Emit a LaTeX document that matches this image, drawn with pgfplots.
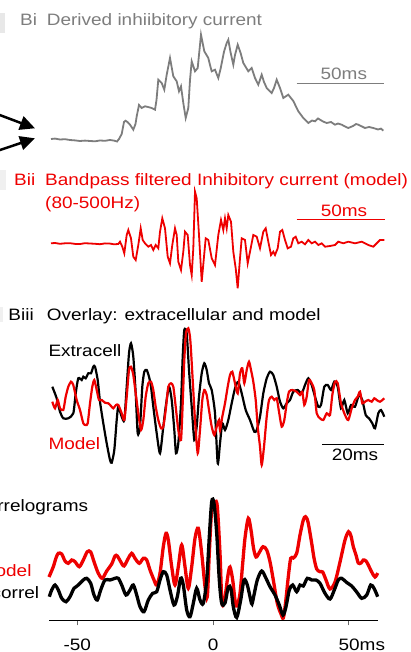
\documentclass[border=0pt]{standalone}
\usepackage{pgfplots}
\pgfplotsset{compat=1.18}
\usepackage{fontspec}
\setmainfont{Liberation Sans}[FakeStretch=1.15]
\usetikzlibrary{arrows.meta}
\definecolor{tgrey}{RGB}{125,125,125}
\definecolor{tred}{RGB}{238,0,0}
\newcommand\lbl{\fontsize{16.5pt}{19pt}\selectfont}
\begin{document}
\begin{tikzpicture}
\useasboundingbox (0,0) rectangle (410pt,652pt);
\clip (0,0) rectangle (410pt,652pt);
\begin{axis}[at={(0pt,0pt)}, anchor=south west, width=410pt, height=652pt, scale only axis,
  xmin=0, xmax=410, ymin=0, ymax=652, y dir=reverse, hide axis, clip=false]
% faint panel-letter remnants
\fill[black!9] (axis cs:0,13) rectangle (axis cs:5,33);
\fill[black!6] (axis cs:0,170) rectangle (axis cs:6,190);
\fill[black!6] (axis cs:0,307) rectangle (axis cs:3,322);
% arrows
\draw[line width=2.5pt, -{Triangle[length=15pt,width=14pt]}] (axis cs:-3,114) -- (axis cs:35,128.3);
\draw[line width=2.5pt, -{Triangle[length=15pt,width=14pt]}] (axis cs:-3,151) -- (axis cs:35,138.3);
% ---- Bi
\node[font=\lbl, text=tgrey, anchor=base west, inner sep=0] at (axis cs:20,26) {Bi};
\node[font=\lbl, text=tgrey, anchor=base west, inner sep=0] at (axis cs:46.7,26) {Derived inhiibitory current};
\addplot[tgrey, line width=1.8pt] coordinates {(51,139) (55,138.6) (60,139.5) (65,139.2) (70,140) (75,140.4) (80,141) (85,140.6) (90,141) (95,141.3) (100,140.5) (105,140.8) (110,140) (114,140.6) (117,141.5) (119,139) (121.7,134) (124,122) (125.5,120.7) (127.5,122) (130,124.7) (133.3,129.7) (135.5,124) (136.7,116.3) (139,105) (141.7,108) (145,106.3) (148,107) (151.7,108) (155,109.7) (156.5,100) (158.3,79.7) (161.7,83) (164.3,89.7) (166.7,74.7) (170,58) (173.3,76.3) (176.7,81.3) (179,91.3) (181,86.3) (183.3,103) (185.7,118) (188.3,108) (190,80) (191.7,61.3) (195,71.3) (197.7,68) (201,34.7) (204.3,51.3) (208.3,58) (210,65) (211.7,71.3) (215,69.7) (218.3,78) (220.7,68.3) (224,51.7) (226.7,43) (228.3,39.7) (230.5,52) (233.3,64.7) (235,55) (237.7,44.7) (240.7,53.3) (243.3,63) (248.3,71.3) (251.7,68) (255,78) (258.3,84.7) (261.7,74.7) (264,82) (266.7,88) (271.7,93) (274,88) (276.7,79.7) (280,88) (283.3,98) (288.3,94.7) (293.3,101) (298.3,111.3) (303.3,118) (308.3,123) (312,120.5) (315,121.3) (318,118.5) (320,119.7) (323,121.5) (326.7,123) (331,122) (335,124.7) (338,123.5) (341.7,124.7) (345,126.5) (348.3,128) (353,126) (356,124) (358.3,124.7) (362,126.5) (365,128) (369,127) (373.3,128) (378,129.5) (381,128.6) (383.3,130.7)};
\addplot[tgrey, line width=1.6pt] coordinates {(296.7,83.5) (384.3,83.5)};
\node[font=\lbl, text=tgrey, anchor=base, inner sep=0] at (axis cs:343.8,79.7) {50ms};
% ---- Bii
\node[font=\lbl, text=tred, anchor=base west, inner sep=0] at (axis cs:14,185.5) {Bii};
\node[font=\lbl, text=tred, anchor=base west, inner sep=0] at (axis cs:45,185.5) {Bandpass filtered Inhibitory current (model)};
\node[font=\lbl, text=tred, anchor=base west, inner sep=0] at (axis cs:45,208.5) {(80-500Hz)};
\addplot[tred, line width=1.8pt] coordinates {(51,243.3) (55,243) (60,243.8) (65,243.3) (70,243.2) (75,243.9) (80,244) (85,243.2) (90,243.5) (95,243.8) (100,244.2) (105,243.4) (110,243.6) (114,244.3) (118.3,244) (120,241.7) (122.3,246.7) (124.3,253.3) (126.7,235) (128.3,230) (131,238.3) (133.3,256.7) (135.7,260) (138.3,245) (140.7,228.3) (142.7,240) (145,243.3) (148.3,246.7) (151,245) (153.3,250) (155.7,245) (158.3,248.3) (160,231.7) (162.3,218.3) (165,228.3) (167.7,256.7) (170,263.3) (172.3,245) (175,228.3) (176.7,235) (178.3,261.7) (181,270) (183.3,251.7) (185,231.7) (187.7,235) (190,265) (191.7,275) (193.3,248.3) (195,191.7) (196.7,198.3) (199,235) (201.7,281.7) (203.7,260) (205.7,238.3) (208.3,240) (211.7,258.3) (215,265) (218.3,235) (221,220) (223.3,230) (225,218.3) (226.7,228.3) (228.3,215) (231,221.7) (233.3,251.7) (235.7,268.3) (237.7,288.3) (240,258.3) (241.7,238.3) (245,240) (247.7,263.3) (250,251.7) (253.3,235) (256.7,236.7) (260,248.3) (263.3,231.7) (265.7,228.3) (268.3,241.7) (271,255) (273.3,251.7) (275,255) (277.7,248.3) (280,231.7) (282.3,230) (285,240) (287.7,248.3) (291,246.7) (293.3,238.3) (295.7,236.7) (298.3,243.3) (301.7,241.7) (305,244.3) (308.3,240) (311.7,243.3) (315,241.7) (318.3,245) (321.7,243.3) (325,246.7) (330,246) (335,245) (338.3,241.7) (343.3,243.3) (348.3,241.7) (355,243.3) (361.7,241.7) (368.3,245) (373.3,246.7) (376.7,243.3) (380,240) (384.3,240)};
\addplot[tred, line width=1.6pt] coordinates {(296.7,219.3) (385,219.3)};
\node[font=\lbl, text=tred, anchor=base, inner sep=0] at (axis cs:344,216) {50ms};
% ---- Biii
\node[font=\lbl, anchor=base west, inner sep=0] at (axis cs:8.3,320) {Biii};
\node[font=\lbl, anchor=base west, inner sep=0] at (axis cs:46.7,320) {Overlay: extracellular and model};
\node[font=\lbl, anchor=base west, inner sep=0] at (axis cs:48.3,356.7) {Extracell};
\node[font=\lbl, text=tred, anchor=base west, inner sep=0] at (axis cs:48.3,449) {Model};
\addplot[black, line width=2.2pt, smooth, tension=0.4] coordinates {(52.3,386.7) (56.7,398.3) (60,411.7) (63.3,418.3) (68.3,418.3) (73.3,413.3) (75.7,393.3) (78.3,378.3) (81.7,380) (83.3,376.7) (85.7,378.3) (88.3,373.3) (91,373.3) (93.3,366.7) (95,366.7) (97.7,380) (100,401.7) (103.3,423.3) (106.7,443.3) (110,460) (111.7,462.7) (114.3,450) (116.7,420) (118.3,406.7) (121.7,416.7) (124.3,420) (126.7,386.7) (129,353.3) (131,343.3) (133.3,356.7) (135.7,393.3) (137.7,433.3) (140,426.7) (142.3,386.7) (144.3,371.7) (146.7,370) (149,376.7) (151,386.7) (153.3,406.7) (156.7,433.3) (160,453.3) (163.3,426.7) (165.7,406.7) (169,386.7) (171.7,400) (174.3,430) (176,453.3) (178.3,443.3) (181,403.3) (182.7,356.7) (184.3,330) (186.7,333.3) (189,370) (191.7,406.7) (194.3,440) (196.7,426.7) (199,396.7) (201.7,373.3) (204.3,363.3) (206.7,370) (209,383.3) (211.7,390) (215,413.3) (217.7,463.3) (220,443.3) (222.3,423.3) (225,430) (228.3,420) (231.7,403.3) (235,388.3) (238.3,381.7) (241.7,393.3) (245.7,410) (250,420) (254.3,431.7) (256.7,430) (260,416.7) (263.3,393.3) (266.7,378.3) (270,371.7) (273.3,375) (276.7,386.7) (280,401.7) (283.3,408.3) (286.7,403.3) (290,400) (293.3,391.7) (297.7,390) (301.7,393.3) (305,385) (308.3,378.3) (311.7,385) (315,396.7) (318.3,406.7) (321,405) (324.3,386.7) (327.7,385) (331,390) (334.3,381.7) (337.7,386.7) (341,408.3) (344.3,400) (347.7,413.3) (351,405) (355,406.7) (359,395) (362.3,400) (365.7,415) (369,418.3) (372.3,423.3) (375,428.3) (378.3,413.3) (381,410) (384.3,416.7)};
\addplot[tred, line width=2.2pt, smooth, tension=0.4] coordinates {(52.3,401.7) (55,408.3) (57.7,400) (60,408.3) (63.3,410) (65.7,396.7) (68.3,386.7) (71,381.7) (73.3,385) (76.7,400) (80,410) (83.3,423.3) (85.7,425) (87.7,423.3) (90,403.3) (92.3,386.7) (94.3,380) (96.7,390) (99,400) (101.7,400) (105,402.7) (108.3,403.3) (111,406) (113.3,408.3) (116,405) (118.3,405) (121.7,413.3) (124.3,420) (126.7,396.7) (129,370) (131,366.7) (133.3,375) (135.7,393.3) (138.3,413.3) (141,430) (143.3,420) (145.7,396.7) (148.3,383.3) (151,381.7) (153.3,390) (155.7,406.7) (158.3,420) (161,428.3) (163.3,426.7) (165.7,410) (168.3,386.7) (171,383.3) (173.3,386.7) (175.7,406.7) (178.3,430) (181,440) (182.7,403.3) (184.3,360) (186,333.3) (188.3,328.3) (190.3,340) (192.7,380) (195,420) (197.7,453.3) (200,430) (202.3,400) (204.3,390) (206.7,395) (209,410) (211.7,426.7) (214.3,435) (216.7,426.7) (219,420) (220,430) (222.3,416.7) (225,403.3) (227.7,386.7) (230,375) (232.3,371.7) (235,383.3) (237.7,393.3) (240,373.3) (242.3,368.3) (244.3,383.3) (246.7,370) (249,361.7) (251,370) (253.3,381.7) (255.7,400) (257.7,426.7) (260,446.7) (261.7,465) (264,446.7) (266.7,416.7) (269,400) (271.7,396.7) (274.3,400) (276.7,398.3) (279,411.7) (281.7,426.7) (284.3,420) (286.7,403.3) (289,391.7) (292.3,390) (296.7,391.7) (300,395) (302.3,391.7) (304.3,405) (306.7,396.7) (309,380) (311.7,383.3) (314.3,390) (316.7,413.3) (320,418.3) (323.3,420) (326.7,413.3) (330,415) (332.3,395) (335,381.7) (337.7,383.3) (341,403.3) (345,415) (348.3,420) (351.7,408.3) (355,400) (357.7,396.7) (360,391.7) (362.3,403.3) (365,401.7) (368.3,400) (371.7,401.7) (374.3,398.3) (376.7,400) (380,401.7) (384.3,398.3)};
\addplot[black, line width=1.3pt] coordinates {(322.3,444.3) (384.3,444.3)};
\node[font=\lbl, anchor=base, inner sep=0] at (axis cs:355,460) {20ms};
% ---- Correlograms
\node[font=\lbl, anchor=base east, inner sep=0] at (axis cs:88.3,511.7) {Correlograms};
\node[font=\lbl, text=tred, anchor=base east, inner sep=0] at (axis cs:31.7,576) {Model};
\node[font=\lbl, anchor=base east, inner sep=0] at (axis cs:39.3,598) {Autocorrel};
\addplot[tred, line width=3.3pt, smooth, tension=0.5] coordinates {(49,577) (53.3,566.7) (56,558) (58.3,553.3) (61.7,554) (65,561) (68.3,563.3) (71.7,560) (75,561.7) (79.3,566.7) (83.3,560) (87.3,551.7) (90.7,552) (94,561.7) (98.3,573.3) (102.3,578.3) (106.7,571) (111.7,564) (115,556) (117.3,556) (120.7,561.7) (124,566) (128.3,558.3) (131.7,553.3) (135,558.3) (139.3,563.3) (143.3,558.3) (146.7,560) (150,570) (154,580) (156.7,585) (160,573.3) (163.3,546.7) (166,533.3) (168.3,540) (171.7,566.7) (175,585) (178.3,566.7) (181.7,545) (185,566.7) (188.3,588.3) (191.7,566.7) (195,538.3) (198.3,528.3) (201.7,553.3) (205,586.7) (207.3,596.7) (209.3,553.3) (211.7,510) (215,501.7) (217.3,506.7) (220,553.3) (222,603) (225,596.7) (228,575) (230,567) (232.7,580) (235,600) (237,606) (240,593.3) (242.7,563.3) (245,538) (248.3,518.3) (251,530) (253.5,548) (256,557) (259,553) (263,546.7) (266.7,550) (270,561.7) (273.3,580) (277.3,603.3) (281,614) (283.3,618) (285.5,603.3) (288.3,576.7) (290.7,558.3) (293.3,558) (296.7,553.3) (300,535) (303.3,520) (305.5,516.7) (308,522) (311.7,543.3) (314,558) (316.7,569) (320,571.7) (322.7,572) (326,580) (330,589) (335,582) (340,562) (345,540) (348.5,531.7) (351,536) (353.3,546.7) (356,555) (358.3,563) (361,563) (363.3,560) (366,561) (368.3,565) (371.7,572) (375,577) (377.7,573)};
\addplot[black, line width=3.3pt, smooth, tension=0.5] coordinates {(49.3,596.7) (51.7,590) (55,585) (58.3,590) (61.7,598.3) (66,601.7) (70,596.7) (74,588.3) (78.3,585) (83.3,580) (86.7,578.3) (90.7,583.3) (94,595) (97.3,600) (100.7,590) (105,580) (110,580) (115,578.3) (118.3,578.3) (121.7,585) (126,595) (130,590) (133.3,585) (136.7,595) (140,606.7) (144,611.7) (148.3,600) (152.7,593.3) (156.7,591.7) (160,580) (163.3,571.7) (166.7,575) (170,590) (174,605) (177.3,596.7) (180.7,578.3) (183.3,585) (186.7,610) (190,616.7) (193.3,603.3) (196.7,588.3) (200,600) (203.3,603.3) (206.7,580) (209.3,536.7) (211.7,501.7) (214,503.3) (216.7,533.3) (219.3,580) (221.7,603.3) (225,603) (228.3,587) (231,589) (233.3,606.7) (236.7,617.5) (240.7,600) (244,580) (247.3,585) (250.7,600) (252,604) (254,595) (257.3,580) (261.7,571) (266,578.3) (270,586.7) (275,595) (279.3,605) (283,615) (286,606.7) (289.3,590) (292.7,585) (296.7,591.7) (300,585) (303.3,586) (307.3,578.3) (311.7,580) (316,580) (320,583.3) (325,593.3) (330,599) (334.3,590) (338.3,580) (341.7,578.3) (346.7,582.5) (351.7,586) (356.7,592) (361.7,598.3) (366.7,595) (370.7,585) (374,588.3) (377.7,596.7)};
\end{axis}
% time axis of the correlograms (ms)
\begin{axis}[at={(49pt,31.7pt)}, anchor=south west, width=328.7pt, height=140pt, scale only axis,
  xmin=-60.4, xmax=60.6, ymin=0, ymax=140, axis x line=bottom, axis y line=none,
  xtick={-50,0,50}, xticklabels={}, tick align=outside, major tick length=5pt,
  x axis line style={-}, every axis x line/.append style={draw=black!60, line width=0.9pt},
  xtick style={draw=black!60, line width=0.9pt}, clip=false]
\node[font=\lbl, anchor=base, inner sep=0] at (axis cs:-50,-29.7) {-50};
\node[font=\lbl, anchor=base, inner sep=0] at (axis cs:0,-29.7) {0};
\node[font=\lbl, anchor=base west, inner sep=0, xshift=-10.5pt] at (axis cs:50,-29.7) {50ms};
\end{axis}
\end{tikzpicture}
\end{document}
